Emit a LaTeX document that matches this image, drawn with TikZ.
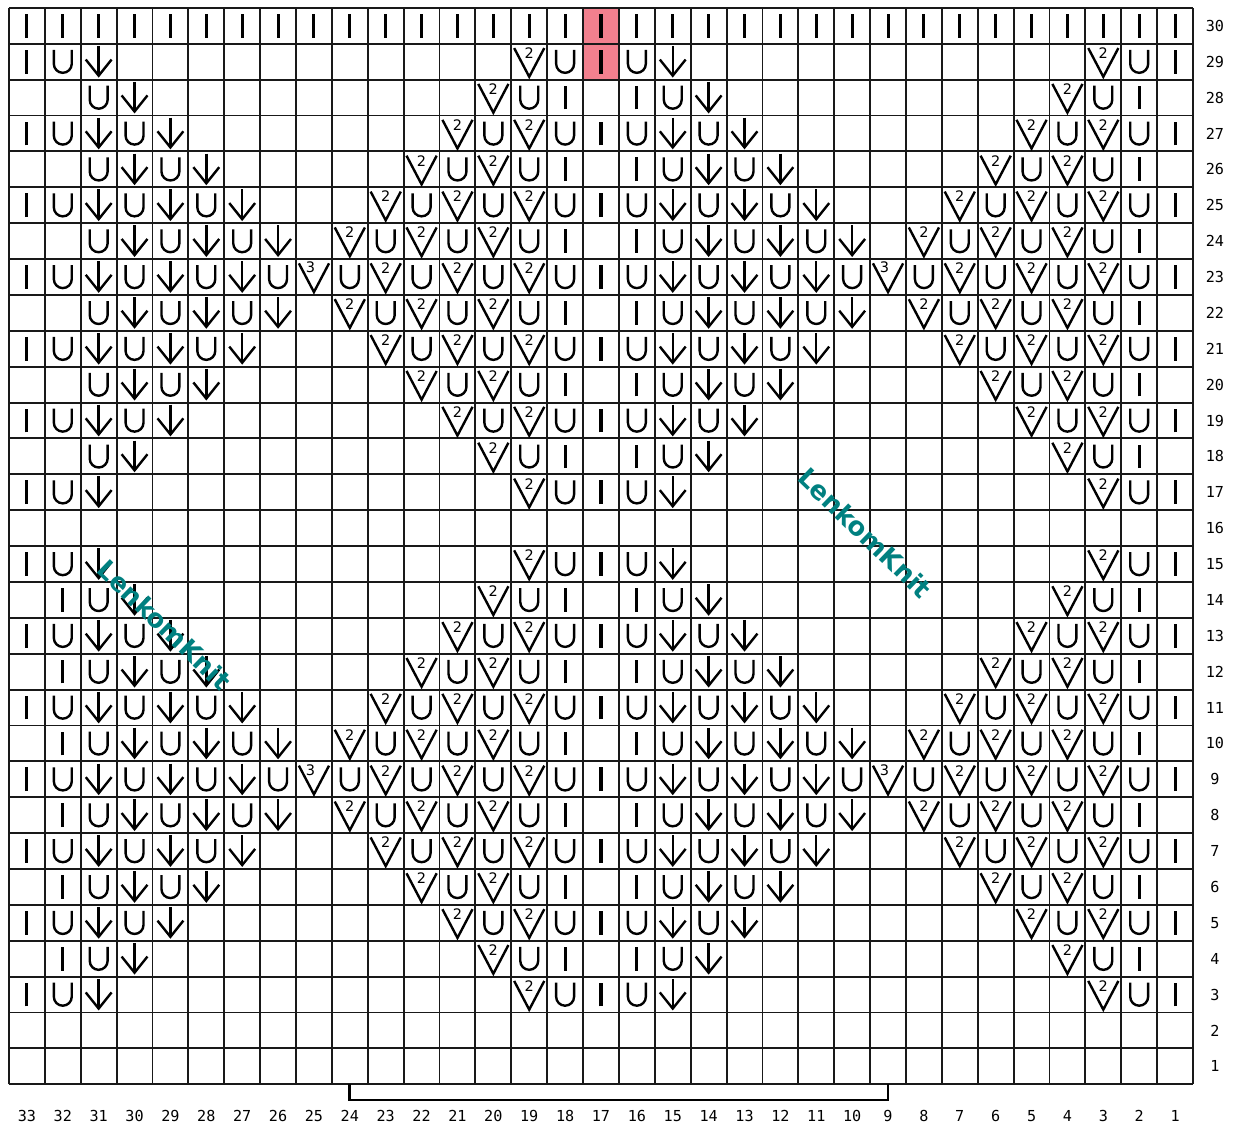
\documentclass[tikz,border=0pt]{standalone}
\usepackage{fontspec}
\newfontfamily\labelfont{DejaVu Sans Mono}
\newfontfamily\markfont{DejaVu Sans}
\usepackage{tikz}
\usetikzlibrary{calc}
\definecolor{cellred}{RGB}{242,128,142}
\definecolor{wmark}{RGB}{0,128,128}
\tikzset{
  gridline/.style={line width=1.5pt, black!90},
  sym/.style={line width=1.9pt, black},
  digit/.style={inner sep=0pt, font=\markfont\fontsize{11.5}{12}\selectfont},
  collabel/.style={inner sep=0pt, font=\labelfont\fontsize{12}{13}\selectfont},
  rowlabel/.style={inner sep=0pt, font=\labelfont\fontsize{12}{13}\selectfont},
  bracket/.style={line width=2.2pt, black},
  wmarktext/.style={inner sep=0pt, text=wmark, font=\markfont\bfseries\fontsize{20.5}{22}\selectfont},
  knit/.pic={\draw[sym, line width=2.4pt] (0,-0.33) -- (0,0.33);},
  yarnover/.pic={\draw[sym] (-0.25,0.33) -- (-0.25,-0.06)
      arc[start angle=180, end angle=360, radius=0.25] -- (0.25,0.33);},
  slipdown/.pic={\draw[sym] (0,0.44) -- (0,-0.39);
      \draw[sym] (-0.36,0.06) -- (0,-0.39) -- (0.36,0.06);},
  dectwo/.pic={\draw[sym] (-0.42,0.38) -- (0,-0.42) -- (0.42,0.38);
      \node[digit] at (0.0,0.24) {2};},
  decthree/.pic={\draw[sym] (-0.42,0.38) -- (0,-0.42) -- (0.42,0.38);
      \node[digit] at (-0.1,0.26) {3};},
}

\begin{document}
\begin{tikzpicture}
  \useasboundingbox (-0.25,-1.11) rectangle (34.31,30.22);
  % highlighted cells
  \fill[cellred] (16,28) rectangle (17,30);
  \draw[gridline] (0,0) grid (33,30);

  % top row
  \foreach \i in {0,...,32}
    \pic at (\i+0.5,29.5) {knit};

  % odd rows
  \foreach \r/\k in {29/1,27/2,25/3,21/3,19/2,17/1,15/1,13/2,11/3,7/3,5/2,3/1}{
    \foreach \i in {0,16,32}
      \pic at (\i+0.5,\r-0.5) {knit};
    \foreach \b in {0,16}
      \foreach \j in {1,...,\k}{
        \pic at (\b+2*\j-0.5,\r-0.5) {yarnover};
        \pic at (\b+2*\j+0.5,\r-0.5) {slipdown};
        \pic at (\b+16-2*\j+0.5,\r-0.5) {dectwo};
        \pic at (\b+17-2*\j+0.5,\r-0.5) {yarnover};
      }
  }

  % middle rows with the 3-decrease
  \foreach \r in {23,9}{
    \foreach \i in {0,16,32}
      \pic at (\i+0.5,\r-0.5) {knit};
    \foreach \b in {0,16}{
      \foreach \j in {1,2,3}{
        \pic at (\b+2*\j-0.5,\r-0.5) {yarnover};
        \pic at (\b+2*\j+0.5,\r-0.5) {slipdown};
        \pic at (\b+16-2*\j+0.5,\r-0.5) {dectwo};
        \pic at (\b+17-2*\j+0.5,\r-0.5) {yarnover};
      }
      \pic at (\b+7.5,\r-0.5) {yarnover};
      \pic at (\b+8.5,\r-0.5) {decthree};
      \pic at (\b+9.5,\r-0.5) {yarnover};
    }
  }

  % even rows
  \foreach \r/\k in {28/1,26/2,24/3,22/3,20/2,18/1,14/1,12/2,10/3,8/3,6/2,4/1}{
    \foreach \i in {15,17,31}
      \pic at (\i+0.5,\r-0.5) {knit};
    \foreach \b in {0,16}
      \foreach \j in {1,...,\k}{
        \pic at (\b+2*\j+0.5,\r-0.5) {yarnover};
        \pic at (\b+2*\j+1.5,\r-0.5) {slipdown};
        \pic at (\b+15-2*\j+0.5,\r-0.5) {dectwo};
        \pic at (\b+16-2*\j+0.5,\r-0.5) {yarnover};
      }
  }
  \foreach \r in {14,12,10,8,6,4}
    \pic at (1.5,\r-0.5) {knit};

  % numbering
  \foreach \n [count=\i from 0] in {33,32,...,1}
    \node[collabel] (col\n) at (\i+0.5,-0.89) {\n};
  \foreach \r in {1,...,30}
    \node[rowlabel] (row\r) at (33.61,\r-0.5) {\r};

  % repeat bracket
  \coordinate (repL) at (9.5,0);
  \coordinate (repR) at (24.5,0);
  \draw[bracket] (repL) -- ++(0,-0.44) -| (repR);

  % watermarks
  \node[wmarktext, rotate=-44] (mark1) at (23.86,15.36) {LenkomKnit};
  \node[wmarktext, rotate=-44] (mark2) at (4.33,12.8) {LenkomKnit};
\end{tikzpicture}
\end{document}
